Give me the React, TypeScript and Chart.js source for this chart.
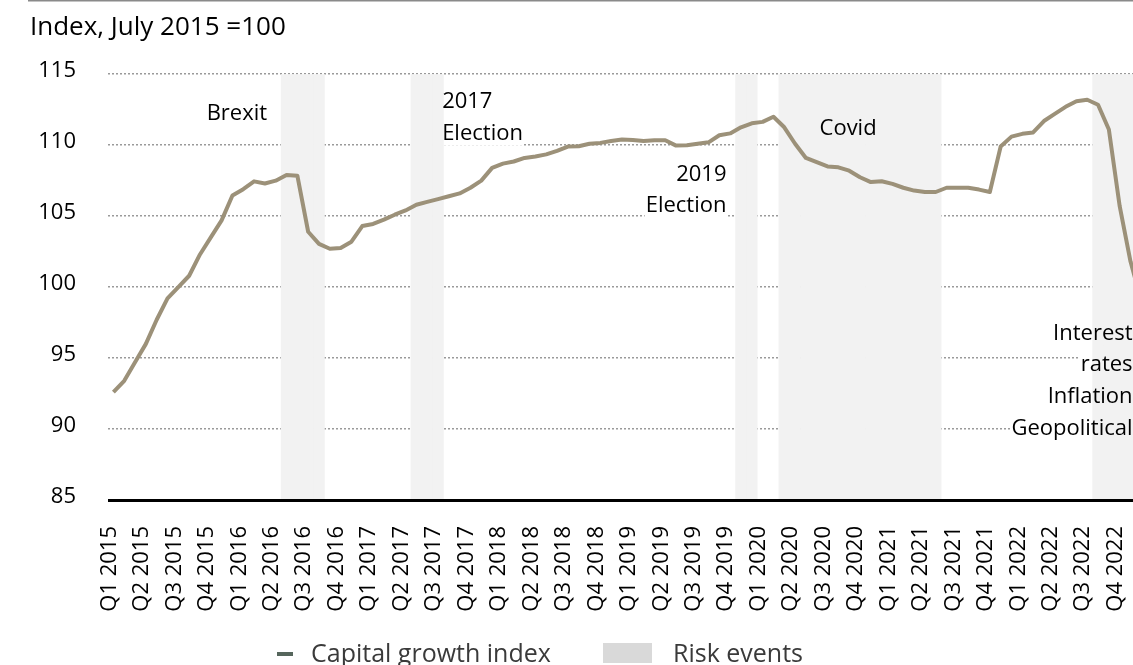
import React, { useEffect, useRef } from 'react';
import { Chart, registerables } from 'chart.js';

Chart.register(...registerables);

// ---- Data ----
const tickLabels = [
  'Q1 2015', 'Q2 2015', 'Q3 2015', 'Q4 2015',
  'Q1 2016', 'Q2 2016', 'Q3 2016', 'Q4 2016',
  'Q1 2017', 'Q2 2017', 'Q3 2017', 'Q4 2017',
  'Q1 2018', 'Q2 2018', 'Q3 2018', 'Q4 2018',
  'Q1 2019', 'Q2 2019', 'Q3 2019', 'Q4 2019',
  'Q1 2020', 'Q2 2020', 'Q3 2020', 'Q4 2020',
  'Q1 2021', 'Q2 2021', 'Q3 2021', 'Q4 2021',
  'Q1 2022', 'Q2 2022', 'Q3 2022', 'Q4 2022',
];
const monthsPerTick = 3;

// Monthly capital growth index, Jan 2015 .. Dec 2022 (July 2015 = 100)
const capitalGrowth = [
  92.6, 93.4, 94.7, 96.0, 97.7, 99.2, 100.0, 100.8, 102.3, 103.5, 104.7, 106.45,
  106.9, 107.45, 107.3, 107.5, 107.9, 107.85, 103.9, 103.05, 102.7, 102.75, 103.2, 104.3,
  104.45, 104.75, 105.1, 105.4, 105.8, 106.0, 106.2, 106.4, 106.6, 107.0, 107.5, 108.4,
  108.7, 108.85, 109.1, 109.2, 109.35, 109.6, 109.9, 109.92, 110.1, 110.16, 110.3, 110.4,
  110.37, 110.3, 110.35, 110.35, 109.97, 110.0, 110.1, 110.2, 110.7, 110.83, 111.26, 111.54,
  111.64, 112.0, 111.26, 110.1, 109.1, 108.8, 108.5, 108.44, 108.2, 107.74, 107.4, 107.46,
  107.27, 107.0, 106.8, 106.7, 106.7, 107.0, 107.0, 107.0, 106.87, 106.7, 109.9, 110.6,
  110.8, 110.9, 111.7, 112.2, 112.7, 113.1, 113.2, 112.85, 111.1, 105.7, 101.8, 99.0,
];

// Risk event periods (month index, inclusive)
const riskStart = [16, 28, 58, 62, 91];
const riskEnd = [19, 30, 59, 76, 95];
const riskHeight = 115;

// Event annotations (month index, index value at text baseline)
const noteText = ['Brexit', '2017', 'Election', '2019', 'Election', 'Covid', 'Interest', 'rates', 'Inflation', 'Geopolitical'];
const noteMonth = [11.41, 30.38, 30.38, 56.66, 56.66, 65.26, 94.19, 94.19, 94.19, 94.19];
const noteValue = [111.8, 112.6, 110.39, 107.46, 105.27, 110.74, 96.28, 94.06, 91.81, 89.56];
const noteAlign: CanvasTextAlign[] = ['center', 'left', 'left', 'right', 'right', 'left', 'right', 'right', 'right', 'right'];

const yMin = 85;
const yMax = 115;
const yStep = 5;
const xMin = -0.5;
const xMax = 94.23;

const titleText = 'Index, July 2015 =100';
const seriesName = 'Capital growth index';
const riskName = 'Risk events';

const FONT = "'Open Sans', 'Noto Sans', sans-serif";
const LINE_COLOR = '#9c9179';
const SHADE_COLOR = '#f2f2f2';
const NOTE_FONT = `22px ${FONT}`;

const overlayPlugin = {
  id: 'overlay',
  beforeDraw(chart: any) {
    const ctx = chart.ctx;
    ctx.save();
    ctx.strokeStyle = '#8a8a8a';
    ctx.lineWidth = 1.5;
    ctx.beginPath();
    ctx.moveTo(28, 0.75);
    ctx.lineTo(chart.width, 0.75);
    ctx.stroke();
    ctx.restore();
  },
  beforeDatasetsDraw(chart: any) {
    const ctx = chart.ctx;
    const xs = chart.scales.x;
    const ys = chart.scales.y;
    ctx.save();
    ctx.font = NOTE_FONT;
    ctx.fillStyle = '#fff';
    noteText.forEach((t, i) => {
      const w = ctx.measureText(t).width;
      const x = xs.getPixelForValue(noteMonth[i]);
      const y = ys.getPixelForValue(noteValue[i]);
      const x0 = noteAlign[i] === 'left' ? x : noteAlign[i] === 'right' ? x - w : x - w / 2;
      ctx.fillRect(x0 - 1, y - 18, w + 2, 24);
    });
    ctx.restore();
  },
  afterDatasetsDraw(chart: any) {
    const ctx = chart.ctx;
    const { left, right, bottom } = chart.chartArea;
    const xs = chart.scales.x;
    const ys = chart.scales.y;
    ctx.save();
    ctx.strokeStyle = '#000';
    ctx.lineWidth = 3;
    ctx.beginPath();
    ctx.moveTo(left, bottom + 0.5);
    ctx.lineTo(right, bottom + 0.5);
    ctx.stroke();
    ctx.font = NOTE_FONT;
    ctx.fillStyle = '#000';
    ctx.textBaseline = 'alphabetic';
    noteText.forEach((t, i) => {
      ctx.textAlign = noteAlign[i];
      ctx.fillText(t, xs.getPixelForValue(noteMonth[i]), ys.getPixelForValue(noteValue[i]));
    });
    ctx.restore();
  },
  afterDraw(chart: any) {
    const ctx = chart.ctx;
    ctx.save();
    ctx.font = `25px ${FONT}`;
    ctx.textBaseline = 'alphabetic';
    ctx.textAlign = 'left';
    ctx.strokeStyle = '#56665c';
    ctx.lineWidth = 4;
    ctx.beginPath();
    ctx.moveTo(277, 654);
    ctx.lineTo(293, 654);
    ctx.stroke();
    ctx.fillStyle = '#3a3a3a';
    ctx.fillText(seriesName, 311, 662);
    ctx.fillStyle = '#d9d9d9';
    ctx.fillRect(603, 643, 49, 20);
    ctx.fillStyle = '#3a3a3a';
    ctx.fillText(riskName, 673, 662);
    ctx.restore();
  },
};

export default function App() {
  const ref = useRef<HTMLCanvasElement | null>(null);

  useEffect(() => {
    if (!ref.current) return;
    const linePoints = capitalGrowth.map((v, i) => ({ x: i, y: v }));
    const riskPoints: { x: number; y: number }[] = [];
    riskStart.forEach((s, k) => {
      for (let m = s; m <= riskEnd[k]; m++) riskPoints.push({ x: m, y: riskHeight });
    });

    const chart = new Chart(ref.current, {
      type: 'bar',
      data: {
        datasets: [
          {
            type: 'line',
            label: seriesName,
            data: linePoints,
            borderColor: LINE_COLOR,
            backgroundColor: LINE_COLOR,
            borderWidth: 4,
            pointRadius: 0,
            tension: 0,
            borderJoinStyle: 'round',
            order: 1,
          } as any,
          {
            type: 'bar',
            label: riskName,
            data: riskPoints,
            backgroundColor: SHADE_COLOR,
            borderWidth: 0,
            barPercentage: 1,
            categoryPercentage: 1,
            order: 2,
          } as any,
        ],
      },
      options: {
        responsive: false,
        animation: false,
        layout: { padding: { left: 30, right: 0, top: 0, bottom: 0 } },
        plugins: {
          legend: { display: false },
          tooltip: { enabled: false },
          title: {
            display: true,
            text: titleText,
            align: 'start',
            color: '#000',
            font: { family: FONT, size: 26, weight: 'normal' },
            padding: { top: 12, bottom: 31 },
          },
        },
        scales: {
          x: {
            type: 'linear',
            min: xMin,
            max: xMax,
            bounds: 'data',
            offset: false,
            grid: { display: false, drawTicks: false },
            border: { display: false },
            afterBuildTicks: (scale: any) => {
              scale.ticks = tickLabels.map((_, k) => ({ value: k * monthsPerTick }));
            },
            afterFit: (scale: any) => {
              scale.height = 165;
              scale.paddingLeft = 0;
              scale.paddingRight = 0;
            },
            ticks: {
              autoSkip: false,
              maxRotation: 90,
              minRotation: 90,
              padding: 26,
              labelOffset: -4,
              color: '#000',
              font: { family: FONT, size: 22 },
              callback: (value: any) => tickLabels[Math.round(Number(value) / monthsPerTick)] ?? '',
            },
          },
          y: {
            min: yMin,
            max: yMax,
            grid: { color: '#9a9a9a', lineWidth: 1.5, drawTicks: false },
            border: { display: false, dash: [2, 2] },
            afterFit: (scale: any) => {
              scale.width = 78;
              scale.paddingTop = 0;
              scale.paddingBottom = 0;
            },
            ticks: {
              stepSize: yStep,
              padding: 32,
              labelOffset: -3,
              color: '#000',
              font: { family: FONT, size: 22 },
            },
          },
        },
      } as any,
      plugins: [overlayPlugin],
    });
    return () => chart.destroy();
  }, []);

  return (
    <div style={{ position: 'absolute', left: 0, top: 0, width: 1133, height: 665, background: '#fff' }}>
      <canvas ref={ref} width={1133} height={665} style={{ display: 'block' }} />
    </div>
  );
}
